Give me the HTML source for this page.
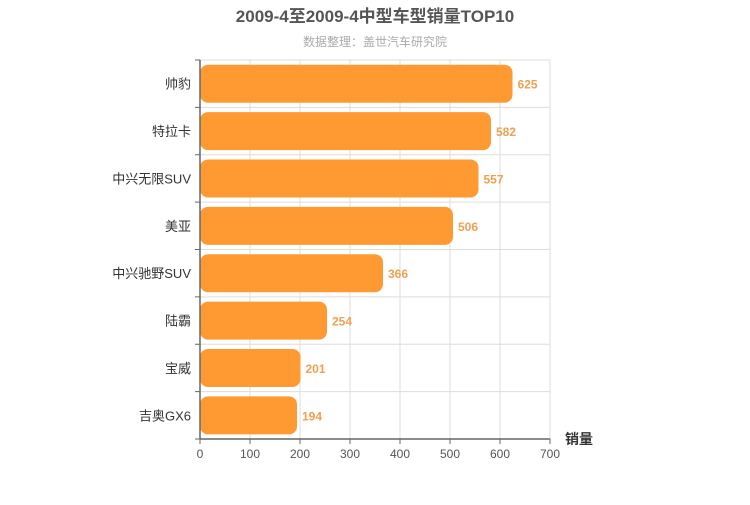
<!DOCTYPE html>
<html><head><meta charset="utf-8"><style>
body{margin:0;background:#fff;width:750px;height:500px;overflow:hidden}
svg{font-family:"Liberation Sans","Noto Sans CJK SC",sans-serif}
</style></head><body>
<svg id="chart" width="750" height="500">
<text x="375" y="22" text-anchor="middle" font-size="17" font-weight="bold" fill="#555">2009-4至2009-4中型车型销量TOP10</text>
<text x="375" y="46" text-anchor="middle" font-size="12" fill="#aaa">数据整理：盖世汽车研究院</text>
<g id="grid"></g><g id="bars"></g><g id="axes"></g>
<text x="565" y="444" font-size="14" font-weight="bold" fill="#333">销量</text>
</svg>
<script>
const categories=["帅豹","特拉卡","中兴无限SUV","美亚","中兴驰野SUV","陆霸","宝威","吉奥GX6"];
const values=[625,582,557,506,366,254,201,194];
const ticks=[0,100,200,300,400,500,600,700];
const NS="http://www.w3.org/2000/svg";
const x0=200,x1=550,y0=60,y1=439,xmax=700;
const band=(y1-y0)/categories.length;
const X=v=>x0+(x1-x0)*v/xmax;
const Y=i=>y0+band*i;
function mk(p,t,a){const e=document.createElementNS(NS,t);for(const k in a)e.setAttribute(k,a[k]);p.appendChild(e);return e;}
const g=document.getElementById('grid'),b=document.getElementById('bars'),ax=document.getElementById('axes');
ticks.forEach(t=>{
 const l=mk(g,'line',{x1:X(t),x2:X(t),y1:y0,y2:y1,stroke:'#ddd'});
 
 
 const tk=mk(ax,'line',{x1:X(t),x2:X(t),y1:y1,y2:y1+5,stroke:'#666'});
 
 
 const tx=mk(ax,'text',{x:X(t),y:y1+19,'text-anchor':'middle','font-size':12,fill:'#555'});
 tx.textContent=t;
 
 
});
for(let i=0;i<=categories.length;i++){
 const l=mk(g,'line',{x1:x0,x2:x1,y1:Y(i),y2:Y(i),stroke:'#ddd'});
 
 
 const tk=mk(ax,'line',{x1:x0-5,x2:x0,y1:Y(i),y2:Y(i),stroke:'#666'});
 
 
}
categories.forEach((c,i)=>{
 const cy=Y(i)+band/2;
 const r=mk(b,'rect',{x:x0,y:cy-19,width:X(values[i])-x0,height:38,rx:8,fill:'#ff9a33'});
 
 
 const v=mk(b,'text',{x:X(values[i])+5,y:cy+5,'font-size':12,'font-weight':'bold',fill:'#f0a050'});
 v.textContent=values[i];
 
 
 const l=mk(ax,'text',{x:x0-9,y:cy+5,'text-anchor':'end','font-size':13,fill:'#333'});
 l.textContent=c;
 
 
});
const ya=mk(ax,'line',{x1:x0,x2:x0,y1:y0,y2:y1,stroke:'#666','stroke-width':1.5});


const xa=mk(ax,'line',{x1:x0,x2:x1,y1:y1,y2:y1,stroke:'#666','stroke-width':1.5});


</script>
</body></html>
